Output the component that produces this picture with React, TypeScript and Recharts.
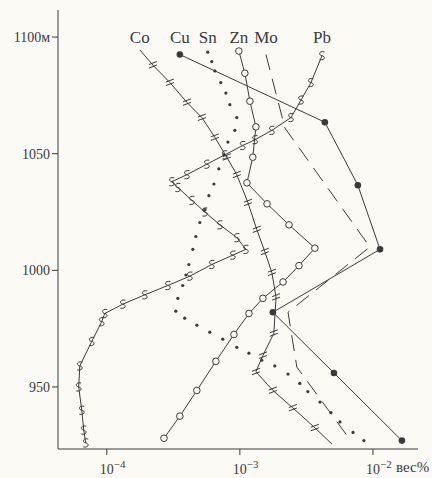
import { ScatterChart, Scatter, XAxis, YAxis } from 'recharts';

const INK = '#3a3a3a';
const FONT = '"Liberation Serif", "DejaVu Serif", serif';

const DEPTH_TICKS = [950, 1000, 1050, 1100];
const PCT_TICKS = [1e-4, 1e-3, 1e-2];
const DEPTH_DOMAIN: [number, number] = [923.4, 1111.6];
const PCT_DOMAIN: [number, number] = [4.3e-5, 2.18e-2];
const LABEL_DEPTH = 1097.5;

// [depth m, content wt%]
const CO: [number, number][] = [
  [1094.5, 1.77e-4], [1088, 2.22e-4], [1080.5, 2.98e-4], [1072, 4.0e-4], [1065.5, 5.18e-4],
  [1057, 6.49e-4], [1048.5, 7.98e-4], [1041, 9.48e-4], [1029, 1.15e-3], [1017.5, 1.34e-3],
  [1008, 1.54e-3], [999, 1.74e-3], [988.5, 1.87e-3], [973, 1.8e-3], [963.5, 1.49e-3],
  [956.5, 1.32e-3], [948.5, 1.77e-3], [941, 2.5e-3], [932.5, 3.66e-3], [925.5, 4.92e-3],
];

const CU: [number, number][] = [
  [1092.5, 3.54e-4], [1063.5, 4.35e-3], [1036.5, 7.7e-3], [1009, 1.13e-2],
  [982, 1.77e-3], [956, 5.09e-3], [927, 1.65e-2],
];

const SN: [number, number][] = [
  [1093.5, 5.74e-4], [1089.5, 6.15e-4], [1085.5, 6.49e-4], [1080.5, 7.19e-4], [1076, 7.85e-4],
  [1071, 8.41e-4], [1065.5, 9.48e-4], [1060, 9.16e-4], [1055, 8.13e-4], [1049.5, 7.58e-4],
  [1043.5, 6.95e-4], [1037, 6.38e-4], [1032, 5.85e-4], [1026, 5.46e-4], [1020.5, 5.0e-4],
  [1014.5, 4.67e-4], [1009, 4.43e-4], [1002.5, 4.14e-4], [998, 3.93e-4], [993.5, 3.72e-4],
  [988, 3.42e-4], [982.5, 3.3e-4], [979.5, 3.85e-4], [976.5, 4.75e-4], [973.5, 5.94e-4],
  [970.5, 7.44e-4], [967, 9.48e-4], [964.5, 1.17e-3], [961.5, 1.46e-3], [959, 1.83e-3],
  [955.5, 2.3e-3], [951.5, 2.82e-3], [948, 3.24e-3], [943.5, 4.0e-3], [939, 4.83e-3],
  [935, 5.65e-3], [930.5, 7.08e-3], [927, 8.55e-3],
];

const ZN: [number, number][] = [
  [1094, 9.83e-4], [1084.5, 1.09e-3], [1072.5, 1.19e-3], [1061.5, 1.32e-3], [1048.5, 1.25e-3],
  [1037.5, 1.13e-3], [1028.5, 1.6e-3], [1019.5, 2.34e-3], [1009.5, 3.66e-3], [1002, 2.78e-3],
  [995, 2.11e-3], [988, 1.49e-3], [981.5, 1.17e-3], [972.5, 9.02e-4], [961, 6.6e-4],
  [948.5, 4.75e-4], [937.5, 3.54e-4], [928, 2.69e-4],
];

const MO: [number, number][] = [
  [1092.5, 1.57e-3], [1061, 2.18e-3], [1010, 9.48e-3], [982, 2.3e-3], [958.5, 2.68e-3], [927.5, 6.71e-3],
];

const PB: [number, number][] = [
  [1092, 4.14e-3], [1080.5, 3.42e-3], [1073, 2.88e-3], [1065.5, 2.42e-3], [1060, 1.74e-3],
  [1056, 1.3e-3], [1053.5, 1.05e-3], [1049.5, 7.7e-4], [1045.5, 5.65e-4], [1041, 4.0e-4],
  [1038, 3.08e-4], [1035.5, 3.42e-4], [1030, 4.36e-4], [1025, 5.46e-4], [1019.5, 7.08e-4],
  [1014, 9.5e-4], [1009, 1.11e-3], [1006.5, 8.85e-4], [1002.5, 6.15e-4], [997.5, 4.21e-4],
  [993.5, 2.88e-4], [989.5, 1.93e-4], [985.5, 1.32e-4], [981.5, 9.66e-5], [978, 9.16e-5],
  [969.5, 7.71e-5], [959, 6.27e-5], [950, 6.15e-5], [940, 6.49e-5], [931.5, 6.71e-5], [926, 6.95e-5],
];

const ELEMENTS: [string, [number, number][]][] = [
  ['Co', CO], ['Cu', CU], ['Sn', SN], ['Zn', ZN], ['Mo', MO], ['Pb', PB],
];

const pts = (rows: [number, number][]) => rows.map(([depth, pct]) => ({ depth, pct }));
const labelPts = ELEMENTS.map(([name, rows]) => ({ depth: LABEL_DEPTH, pct: rows[0][1], name }));

const lineStyle = { stroke: INK, strokeWidth: 1 };

const CuDot = ({ cx, cy }: any) => <circle cx={cx} cy={cy} r={3.3} fill={INK} />;
const ZnDot = ({ cx, cy }: any) => <circle cx={cx} cy={cy} r={3.3} fill="#fbfaf5" stroke={INK} strokeWidth={1} />;
const SnDot = ({ cx, cy }: any) => <circle cx={cx} cy={cy} r={1.6} fill={INK} />;
const NoDot = () => <g />;

const CoMark = ({ cx, cy, index }: any) => {
  if (index === 0 || index === CO.length - 1) return <g />;
  return (
    <g stroke={INK} strokeWidth={1}>
      <line x1={cx - 4} y1={cy - 0.5} x2={cx + 4} y2={cy - 3.5} />
      <line x1={cx - 4} y1={cy + 3} x2={cx + 4} y2={cy} />
    </g>
  );
};

const PbMark = ({ cx, cy }: any) => (
  <path
    d={`M${cx + 2.5} ${cy - 4} C${cx - 3.5} ${cy - 5} ${cx - 3.5} ${cy - 0.5} ${cx} ${cy} C${cx + 3.5} ${cy + 0.5} ${cx + 3.5} ${cy + 5} ${cx - 2.5} ${cy + 4}`}
    fill="none"
    stroke={INK}
    strokeWidth={1}
  />
);

const NameLabel = ({ cx, cy, payload }: any) => (
  <text x={cx} y={cy} textAnchor="middle" fontFamily={FONT} fontSize={17} fill={INK}>
    {payload.name}
  </text>
);

const PowTick = ({ x, y, payload }: any) => {
  const exp = Math.round(Math.log10(payload.value));
  return (
    <text x={x - 7} y={y + 17} fontFamily={FONT} fontSize={14} fill={INK}>
      10
      <tspan dy={-6} fontSize={11}>{'−' + Math.abs(exp)}</tspan>
    </text>
  );
};

const DepthTick = ({ x, y, payload }: any) => (
  <text x={x} y={y + 5} textAnchor="end" fontFamily={FONT} fontSize={14} fill={INK}>
    {payload.value === 1100 ? '1100м' : payload.value}
  </text>
);

export default function App() {
  return (
    <div style={{ position: 'absolute', left: 0, top: 0, width: 432, height: 478, background: '#fbfaf5', overflow: 'hidden' }}>
      <ScatterChart width={432} height={478} margin={{ top: 10, right: 14, bottom: 0, left: 0 }}>
        <XAxis
          dataKey="pct"
          type="number"
          scale="log"
          domain={PCT_DOMAIN}
          allowDataOverflow
          ticks={PCT_TICKS}
          tick={<PowTick />}
          height={29}
          axisLine={{ stroke: INK }}
          tickLine={{ stroke: INK }}
        />
        <YAxis
          dataKey="depth"
          type="number"
          domain={DEPTH_DOMAIN}
          allowDataOverflow
          ticks={DEPTH_TICKS}
          width={58}
          tick={<DepthTick />}
          axisLine={{ stroke: INK }}
          tickLine={{ stroke: INK }}
        />
        <Scatter data={pts(MO)} line={{ ...lineStyle, strokeDasharray: '16 9' }} shape={NoDot} isAnimationActive={false} />
        <Scatter data={pts(CO)} line={lineStyle} shape={CoMark} isAnimationActive={false} />
        <Scatter data={pts(PB)} line={lineStyle} shape={PbMark} isAnimationActive={false} />
        <Scatter data={pts(CU)} line={lineStyle} shape={CuDot} isAnimationActive={false} />
        <Scatter data={pts(SN)} shape={SnDot} isAnimationActive={false} />
        <Scatter data={pts(ZN)} line={lineStyle} shape={ZnDot} isAnimationActive={false} />
        <Scatter data={labelPts} shape={NameLabel} isAnimationActive={false} />
      </ScatterChart>
      <span style={{ position: 'absolute', left: 396, top: 459, fontFamily: FONT, fontSize: 15, color: INK }}>вес%</span>
    </div>
  );
}
